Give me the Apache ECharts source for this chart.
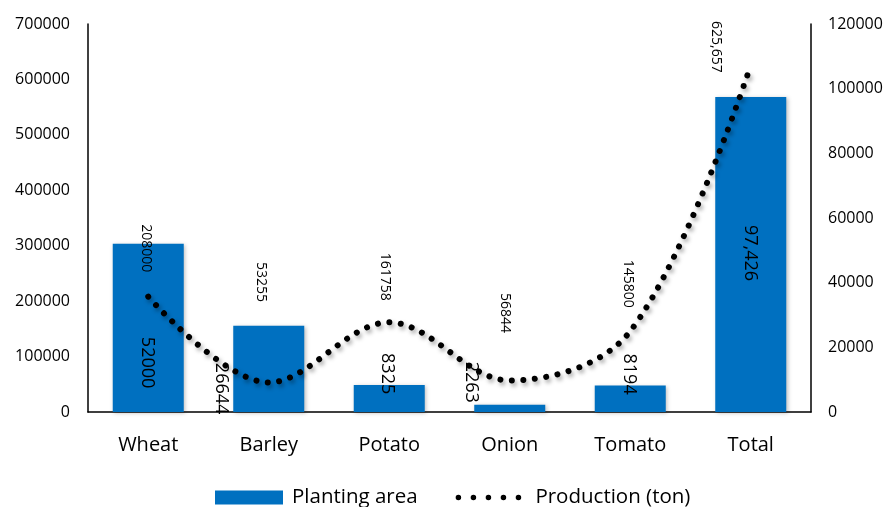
<!DOCTYPE html>
<html>
<head>
<meta charset="utf-8">
<script src="https://cdn.jsdelivr.net/npm/echarts@6/dist/echarts.min.js"></script>
<style>
  html, body { margin: 0; padding: 0; background: #fff; }
  #chart { width: 887px; height: 507px; }
</style>
</head>
<body>
<div id="chart"></div>
<script>
// Crops and their totals
const categories = ['Wheat', 'Barley', 'Potato', 'Onion', 'Tomato', 'Total'];
const plantingArea = [52000, 26644, 8325, 2263, 8194, 97426];
const production = [208000, 53255, 161758, 56844, 145800, 625657];
const areaLabels = ['52000', '26644', '8325', '2263', '8194', '97,426'];
const productionLabels = ['208000', '53255', '161758', '56844', '145800', '625,657'];

// Label anchors in pixels: bars relative to the bar's top-left corner,
// production labels relative to the data point.
const areaLabelPos = [[34, 93], [-12.5, 37], [33, -32], [-3.5, -43], [34, -32], [35, 128]];
const productionLabelPos = [[-1.5, -24], [-7, -80], [-4, -21], [-4, -47], [-1.5, -23], [-34, 8]];

const FONT = '"Open Sans", "Noto Sans", sans-serif';
const BLUE = '#0070C0';
const plain = v => String(v);

const chart = echarts.init(document.getElementById('chart'), null, { renderer: 'canvas' });

chart.setOption({
  animation: false,
  backgroundColor: '#ffffff',
  textStyle: { fontFamily: FONT, color: '#000' },
  grid: { left: 88, right: 76, top: 24, bottom: 95, containLabel: false },
  legend: {
    left: 215,
    top: 487,
    padding: 0,
    itemGap: 38,
    itemWidth: 68,
    itemHeight: 14,
    textStyle: { fontFamily: FONT, fontSize: 20.5, color: '#000', padding: [0, 0, 0, 4] },
    data: [
      { name: 'Planting area', icon: 'rect' },
      {
        name: 'Production (ton)',
        itemStyle: { opacity: 0 },
        lineStyle: { color: '#000', width: 5.5, type: [0.01, 15], cap: 'round', shadowBlur: 0, shadowOffsetX: 0, shadowOffsetY: 0 }
      }
    ]
  },
  xAxis: {
    type: 'category',
    data: categories,
    boundaryGap: true,
    axisLine: { lineStyle: { color: '#000', width: 1.5 } },
    axisTick: { show: false },
    axisLabel: { fontFamily: FONT, fontSize: 20, color: '#000', margin: 23 },
    splitLine: { show: false }
  },
  yAxis: [
    {
      type: 'value',
      min: 0,
      max: 700000,
      interval: 100000,
      position: 'left',
      axisLine: { show: true, lineStyle: { color: '#000', width: 1.5 } },
      axisTick: { show: false },
      axisLabel: { fontFamily: FONT, fontSize: 16, color: '#000', margin: 18, formatter: plain },
      splitLine: { show: false }
    },
    {
      type: 'value',
      min: 0,
      max: 120000,
      interval: 20000,
      position: 'right',
      axisLine: { show: true, lineStyle: { color: '#000', width: 1.5 } },
      axisTick: { show: false },
      axisLabel: { fontFamily: FONT, fontSize: 16, color: '#000', margin: 17, formatter: plain },
      splitLine: { show: false }
    }
  ],
  series: [
    {
      name: 'Planting area',
      type: 'bar',
      yAxisIndex: 1,
      barWidth: 71,
      itemStyle: {
        color: BLUE,
        shadowColor: 'rgba(0,0,0,0.25)',
        shadowBlur: 4,
        shadowOffsetX: 1.5,
        shadowOffsetY: 1
      },
      label: {
        show: true,
        rotate: -90,
        align: 'left',
        verticalAlign: 'middle',
        fontFamily: FONT,
        fontSize: 18,
        color: '#000'
      },
      data: plantingArea.map((v, i) => ({
        value: v,
        label: { position: areaLabelPos[i], formatter: areaLabels[i] }
      }))
    },
    {
      name: 'Production (ton)',
      type: 'line',
      yAxisIndex: 0,
      smooth: 0.35,
      symbol: 'circle',
      symbolSize: 1,
      showSymbol: true,
      itemStyle: { color: 'rgba(0,0,0,0)' },
      lineStyle: {
        color: '#000',
        width: 6,
        type: [0.01, 11.5],
        cap: 'round',
        shadowColor: 'rgba(0,0,0,0.35)',
        shadowBlur: 4,
        shadowOffsetX: 2,
        shadowOffsetY: 3
      },
      label: {
        show: true,
        rotate: -90,
        align: 'right',
        verticalAlign: 'middle',
        fontFamily: FONT,
        fontSize: 14,
        color: '#000'
      },
      z: 3,
      data: production.map((v, i) => ({
        value: v,
        label: { position: productionLabelPos[i], formatter: productionLabels[i] }
      }))
    }
  ]
});
</script>
</body>
</html>
